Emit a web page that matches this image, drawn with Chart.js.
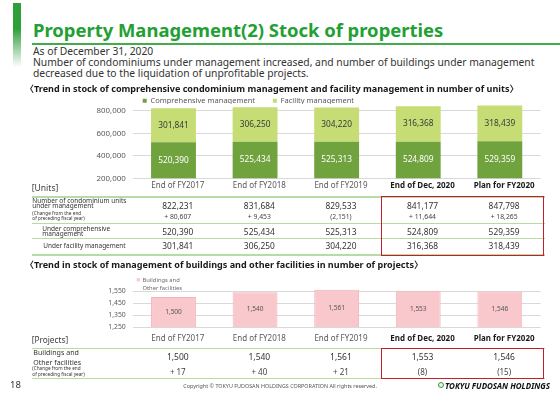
<!DOCTYPE html>
<html lang="en">
<head>
<meta charset="utf-8">
<title>Property Management(2) Stock of properties</title>
<script src="https://cdn.jsdelivr.net/npm/chart.js@4.4.1/dist/chart.umd.min.js"></script>
<style>
  html, body { margin:0; padding:0; background:#fff; }
  body { position:relative; width:560px; height:396px; overflow:hidden;
         font-family:"Noto Sans","Noto Sans CJK JP",sans-serif; color:#333; }
  .t { position:absolute; white-space:nowrap; line-height:1.2; }
  .box { position:absolute; box-sizing:border-box; }
  .chartWrap { position:absolute; left:0; width:560px; }
</style>
</head>
<body>
<div class="box" style="left:13px;top:3px;width:8px;height:64px;background:linear-gradient(#2f9f3a 0%,#2f9f3a 40%,rgba(47,159,58,0) 100%)"></div>
<div class="box" style="left:32px;top:42.5px;width:528px;height:2px;background:#41ad49"></div>

<div class="chartWrap" style="top:87px;height:105px"><canvas id="unitsChart"></canvas></div>
<div class="chartWrap" style="top:270px;height:75px"><canvas id="projectsChart"></canvas></div>

<script>
// chart data
const categories = ['End of FY2017', 'End of FY2018', 'End of FY2019', 'End of Dec, 2020', 'Plan for FY2020'];
const comprehensive = [520390, 525434, 525313, 524809, 529359];
const facility = [301841, 306250, 304220, 316368, 318439];
const condoTotal = [822231, 831684, 829533, 841177, 847798];
const condoChange = [80607, 9453, -2151, 11644, 18265];
const unitTicks = [200000, 400000, 600000, 800000];
const buildings = [1500, 1540, 1561, 1553, 1546];
const buildingChange = [17, 40, 21, -8, -15];
const projectTicks = [1250, 1350, 1450, 1550];
const projectLegend = ['Buildings and', 'Other facilities'];
const highlightFrom = 3; // last two columns are bold / boxed in red

const FONT = '"Noto Sans", "DejaVu Sans", sans-serif';
const fmt = v => v.toLocaleString('en-US');
const fmtChange = v => v < 0 ? '(' + fmt(-v) + ')' : '+ ' + fmt(v);

Chart.defaults.font.family = FONT;
Chart.defaults.animation = false;

// value text in the middle of every bar segment
const barLabels = {
  id: 'barLabels',
  afterDatasetsDraw(chart, args, opts) {
    const ctx = chart.ctx;
    chart.data.datasets.forEach((ds, di) => {
      chart.getDatasetMeta(di).data.forEach((bar, i) => {
        const p = bar.getProps(['x', 'y', 'base'], true);
        const base = Math.min(p.base, chart.chartArea.bottom);
        ctx.save();
        ctx.font = opts.size + 'px ' + FONT;
        ctx.fillStyle = ds.valueColor;
        ctx.textAlign = 'center';
        ctx.textBaseline = 'middle';
        ctx.fillText(fmt(ds.data[i]), p.x, (p.y + base) / 2);
        ctx.restore();
      });
    });
  }
};

// let the legend sit closer to the plot
const legendSnug = {
  id: 'legendSnug',
  beforeInit(chart) {
    const fit = chart.legend.fit;
    chart.legend.fit = function() { fit.call(this); this.height -= 10.4; };
  }
};

// two line legend for the projects chart
const twoLineLegend = {
  id: 'twoLineLegend',
  afterDraw(chart, args, opts) {
    const ctx = chart.ctx;
    const ds = chart.data.datasets[0];
    const x = chart.chartArea.left + 4;
    ctx.save();
    ctx.fillStyle = ds.backgroundColor;
    ctx.fillRect(x, opts.top - 1.8, 3.2, 3.2);
    ctx.font = opts.size + 'px ' + FONT;
    ctx.fillStyle = '#6b6b6b';
    ctx.textBaseline = 'middle';
    projectLegend.forEach((s, i) => ctx.fillText(s, x + 5.8, opts.top + i * opts.gap));
    ctx.restore();
  }
};

const catFont = c => ({ size: 8, weight: c.index >= highlightFrom ? 'bold' : 'normal' });
const catColor = c => c.index >= highlightFrom ? '#1a1a1a' : '#595959';

const unitsChart = new Chart(document.getElementById('unitsChart'), {
  type: 'bar',
  data: {
    labels: categories,
    datasets: [
      { label: 'Comprehensive management', data: comprehensive, backgroundColor: '#70a23e', valueColor: '#ffffff' },
      { label: 'Facility management', data: facility, backgroundColor: '#c5dd74', valueColor: '#3a3a3a' }
    ]
  },
  options: {
    responsive: true, maintainAspectRatio: false, devicePixelRatio: 1,
    layout: { padding: { left: 0, right: 19.4, top: 0, bottom: 0 } },
    datasets: { bar: { barPercentage: 0.55, categoryPercentage: 1 } },
    scales: {
      x: {
        stacked: true, grid: { display: false, drawTicks: false }, border: { display: false },
        ticks: { padding: 3, labelOffset: 4.3, maxRotation: 0, autoSkip: false, font: catFont, color: catColor },
        afterFit: s => { s.height = 13.7; }
      },
      y: {
        stacked: true, min: 200000, max: 860000, border: { display: false },
        grid: { color: '#d9d9d9', drawTicks: false },
        afterBuildTicks: s => { s.ticks = unitTicks.map(v => ({ value: v })); },
        ticks: { padding: 7, color: '#595959', font: { size: 7.9 }, callback: v => fmt(v) },
        afterFit: s => { s.width = 132.7; }
      }
    },
    plugins: {
      legend: {
        position: 'top', align: 'start', fullSize: false,
        labels: {
          boxWidth: 4, boxHeight: 4, padding: 10, color: '#595959', font: { size: 7.5 },
          generateLabels: ch => Chart.defaults.plugins.legend.labels.generateLabels(ch)
            .map((l, i) => i === 0 ? Object.assign(l, { text: l.text + '    ' }) : l)
        }
      },
      tooltip: { enabled: false },
      barLabels: { size: 8.3 }
    }
  },
  plugins: [barLabels, legendSnug]
});

const projectsChart = new Chart(document.getElementById('projectsChart'), {
  type: 'bar',
  data: {
    labels: categories,
    datasets: [
      { label: projectLegend.join(' '), data: buildings, backgroundColor: '#f8c8cc', borderColor: '#f2b4ba', borderWidth: 1, valueColor: '#555555' }
    ]
  },
  options: {
    responsive: true, maintainAspectRatio: false, devicePixelRatio: 1,
    layout: { padding: { left: 0, right: 19.4, top: 17.4, bottom: 0 } },
    datasets: { bar: { barPercentage: 0.55, categoryPercentage: 1 } },
    scales: {
      x: {
        grid: { display: false, drawTicks: false }, border: { display: false },
        ticks: { padding: 7.2, labelOffset: 4.3, maxRotation: 0, autoSkip: false, font: catFont, color: catColor },
        afterFit: s => { s.height = 18; }
      },
      y: {
        min: 1250, max: 1580, border: { display: false },
        grid: { color: '#d9d9d9', drawTicks: false },
        afterBuildTicks: s => { s.ticks = projectTicks.map(v => ({ value: v })); },
        ticks: { padding: 7, color: '#595959', font: { size: 6.8 }, callback: v => fmt(v) },
        afterFit: s => { s.width = 132.7; }
      }
    },
    plugins: {
      legend: { display: false },
      tooltip: { enabled: false },
      barLabels: { size: 6.5 },
      twoLineLegend: { top: 10, gap: 8.3, size: 5.8 }
    }
  },
  plugins: [barLabels, twoLineLegend]
});

// slide text and tables
function fitWidth(d, w) {
  for (let k = 0; k < 3; k++) {
    const cur = d.getBoundingClientRect().width;
    d.style.fontSize = (parseFloat(d.style.fontSize) * w / cur) + 'px';
  }
}
function put(text, x, y, o = {}) {
  const d = document.createElement('div');
  d.className = 't';
  d.textContent = text;
  d.style.left = x + 'px';
  d.style.top = y + 'px';
  d.style.fontSize = (o.size || 8) + 'px';
  if (o.bold) d.style.fontWeight = 'bold';
  if (o.italic) d.style.fontStyle = 'italic';
  d.style.color = o.color || '#333';
  const tx = o.align === 'center' ? '-50%' : o.align === 'right' ? '-100%' : '0';
  d.style.transform = 'translate(' + tx + ',-50%)';
  document.body.appendChild(d);
  if (o.w) fitWidth(d, o.w);
  return d;
}
function rect(x, y, w, h, css) {
  const d = document.createElement('div');
  d.className = 'box';
  d.style.cssText += ';left:' + x + 'px;top:' + y + 'px;width:' + w + 'px;height:' + h + 'px;' + css;
  document.body.appendChild(d);
}

put('Property Management(2) Stock of properties', 33, 30.3, { size: 16.5, bold: true, color: '#22a033', w: 410 });
const sub = put('Number of condominiums under management increased, and number of buildings under management', 33, 62, { size: 10, color: '#333', w: 501 });
put('As of December 31, 2020', 33, 51, { size: parseFloat(sub.style.fontSize), color: '#333' });
put('decreased due to the liquidation of unprofitable projects.', 33, 72.5, { size: parseFloat(sub.style.fontSize), color: '#333' });

const h2 = put('〈Trend in stock of management of buildings and other facilities in number of projects〉', 25, 265, { size: 9, bold: true, color: '#1a1a1a', w: 398 });
put('〈Trend in stock of comprehensive condominium management and facility management in number of units〉', 25, 89, { size: parseFloat(h2.style.fontSize), bold: true, color: '#1a1a1a' });

const colX = categories.map((c, i) => unitsChart.scales.x.getPixelForValue(i) + 4.3);
const lineCss = 'background:#b4dca4';

// table 1
put('[Units]', 31.7, 188.3, { size: 8.5, color: '#404040', w: 26.6 });
rect(31.7, 196, 513, 1.6, lineCss);
rect(31.7, 222.6, 513, 1.4, lineCss);
rect(31.7, 237.6, 513, 1.4, lineCss);
rect(31.7, 254, 513, 1.6, lineCss);
put('Number of condominium units', 32.3, 200.7, { size: 6.5, w: 94 });
put('under management', 32.3, 205.9, { size: 6.5 });
put('(Change from the end', 32.3, 214, { size: 4.7, w: 49 });
put('of preceding fiscal year)', 32.3, 219, { size: 4.7 });
put('Under comprehensive', 42.3, 228.7, { size: 6.5, w: 67.7 });
put('management', 42.3, 233.9, { size: 6.5 });
put('Under facility management', 43.3, 246, { size: 6.5, w: 82.4 });
condoTotal.forEach((v, i) => put(fmt(v), colX[i], 206, { size: 8.4, align: 'center' }));
condoChange.forEach((v, i) => put(fmtChange(v), colX[i], 217, { size: 6.8, align: 'center', color: '#444' }));
comprehensive.forEach((v, i) => put(fmt(v), colX[i], 232, { size: 8.4, align: 'center' }));
facility.forEach((v, i) => put(fmt(v), colX[i], 246, { size: 8.4, align: 'center' }));
rect(380.7, 196, 163.3, 59.7, 'border:1.5px solid #c41e2a');

// table 2
put('[Projects]', 31.7, 340, { size: 8.5, color: '#404040', w: 36.6 });
rect(31.7, 347.6, 513, 1.6, lineCss);
rect(31.7, 377.8, 513, 1.6, lineCss);
put('Buildings and', 33.3, 352, { size: 7, w: 45.7 });
put('Other facilities', 33.3, 362.6, { size: 7 });
put('(Change from the end', 32.3, 368.5, { size: 4.7 });
put('of preceding fiscal year)', 32.3, 374.8, { size: 4.7 });
buildings.forEach((v, i) => put(fmt(v), colX[i], 357, { size: 8.5, align: 'center' }));
buildingChange.forEach((v, i) => put(fmtChange(v), colX[i], 372, { size: 8, align: 'center', color: '#444' }));
rect(380.7, 348, 163.3, 30.7, 'border:1.5px solid #c41e2a');

// footer
put('18', 10, 385, { size: 9.5, color: '#333' });
put('Copyright © TOKYU FUDOSAN HOLDINGS CORPORATION All rights reserved.', 183.3, 386, { size: 5.5, color: '#555', w: 193.4 });
rect(437.6, 382.2, 6, 6, 'border-radius:50%;border:1.8px solid #2e9e3a;background:#e8f5e8');
put('TOKYU FUDOSAN HOLDINGS', 445, 385.5, { size: 8, bold: true, italic: true, color: '#111', w: 105 });
</script>
</body>
</html>
